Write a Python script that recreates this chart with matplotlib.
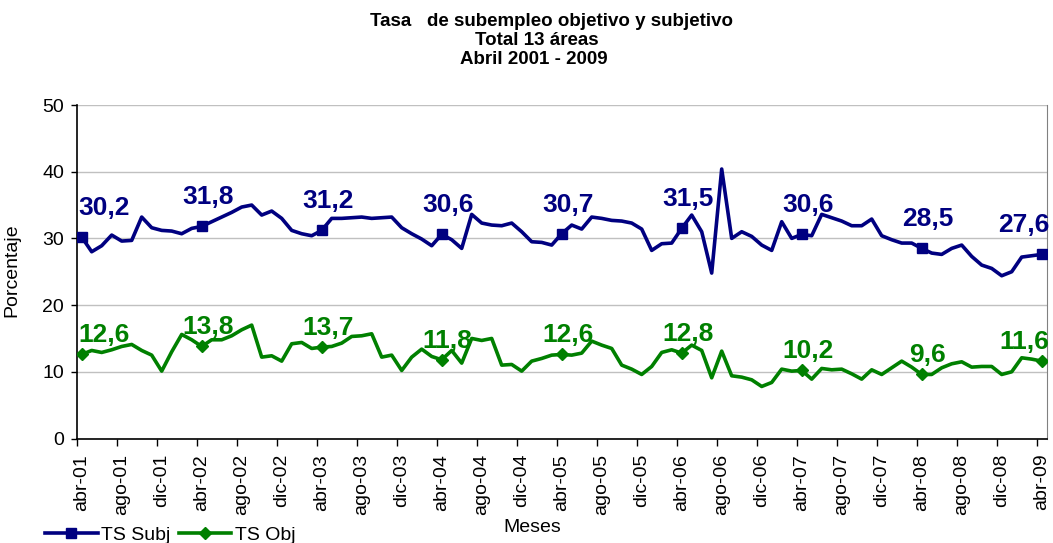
import matplotlib
matplotlib.use('Agg')
import matplotlib.pyplot as plt
from matplotlib.lines import Line2D

plt.rcParams['font.family'] = ['Liberation Sans', 'DejaVu Sans']

# ---------------- data ----------------
tick_labels = ['abr-01', 'ago-01', 'dic-01', 'abr-02', 'ago-02', 'dic-02', 'abr-03',
               'ago-03', 'dic-03', 'abr-04', 'ago-04', 'dic-04', 'abr-05', 'ago-05',
               'dic-05', 'abr-06', 'ago-06', 'dic-06', 'abr-07', 'ago-07', 'dic-07',
               'abr-08', 'ago-08', 'dic-08', 'abr-09']

ts_subj = [30.2, 28.0, 28.9, 30.5, 29.6, 29.7, 33.2, 31.6, 31.2, 31.1, 30.7, 31.5,
           31.8, 32.5, 33.2, 33.9, 34.7, 35.0, 33.5, 34.1, 33.0, 31.2, 30.7, 30.4,
           31.2, 33.0, 33.0, 33.1, 33.2, 33.0, 33.1, 33.2, 31.6, 30.7, 29.9, 28.9,
           30.6, 29.8, 28.5, 33.6, 32.3, 32.0, 31.9, 32.3, 31.0, 29.5, 29.4, 29.0,
           30.7, 32.0, 31.4, 33.2, 33.0, 32.7, 32.6, 32.3, 31.4, 28.2, 29.2, 29.3,
           31.5, 33.5, 31.0, 24.8, 40.4, 30.0, 31.0, 30.3, 29.0, 28.2, 32.5, 30.0,
           30.6, 30.4, 33.6, 33.1, 32.6, 31.9, 31.9, 32.9, 30.4, 29.8, 29.3, 29.3,
           28.5, 27.8, 27.6, 28.5, 29.0, 27.3, 26.0, 25.5, 24.4, 25.0, 27.2, 27.4,
           27.6]

ts_obj = [12.6, 13.2, 12.9, 13.3, 13.8, 14.1, 13.2, 12.5, 10.1, 13.0, 15.6, 14.8,
          13.8, 14.8, 14.8, 15.4, 16.3, 17.0, 12.2, 12.4, 11.6, 14.2, 14.4, 13.5,
          13.7, 13.8, 14.3, 15.3, 15.4, 15.7, 12.2, 12.5, 10.2, 12.2, 13.4, 12.3,
          11.8, 13.2, 11.3, 15.0, 14.7, 15.0, 11.0, 11.1, 10.1, 11.6, 12.0, 12.5,
          12.6, 12.5, 12.8, 14.6, 14.0, 13.5, 11.0, 10.4, 9.6, 10.8, 12.9, 13.3,
          12.8, 14.0, 13.2, 9.1, 13.1, 9.4, 9.2, 8.8, 7.8, 8.4, 10.4, 10.1,
          10.2, 8.9, 10.5, 10.3, 10.4, 9.7, 8.9, 10.3, 9.6, 10.6, 11.6, 10.7,
          9.6, 9.6, 10.6, 11.2, 11.5, 10.7, 10.8, 10.8, 9.6, 10.0, 12.1, 11.9,
          11.6]

series_names = ['TS Subj', 'TS Obj']
# --------------------------------------

BLUE = '#000080'
GREEN = '#008000'
W, H = 1053, 543

fig = plt.figure(figsize=(W / 100, H / 100), dpi=100)
ax = fig.add_axes([76.7 / W, 1 - 438.5 / H, 970 / W, 333.5 / H])

x = list(range(len(ts_subj)))
ax.plot(x, ts_subj, color=BLUE, lw=2.6, marker='s', markersize=7.5,
        markevery=12, zorder=3, solid_joinstyle='round')
ax.plot(x, ts_obj, color=GREEN, lw=2.6, marker='D', markersize=6.5,
        markevery=12, zorder=3, solid_joinstyle='round')

ax.set_xlim(-0.5, len(x) - 0.5)
ax.set_ylim(0, 50)
ax.set_yticks(range(0, 51, 10))
ax.tick_params(axis='y', labelsize=14, length=4, width=1, direction='out', pad=5)
ax.grid(axis='y', color='#c0c0c0', lw=1)
ax.set_axisbelow(True)

# ticks at category boundaries, labels at category centres
tick_pos = list(range(0, len(x), 4))
ax.set_xticks([p - 0.5 for p in tick_pos])
ax.set_xticklabels([])
ax.set_xticks(tick_pos, minor=True)
ax.set_xticklabels(tick_labels, minor=True, rotation=90, fontsize=14)
ax.tick_params(axis='x', which='major', length=5, width=1, direction='out')
ax.tick_params(axis='x', which='minor', length=0, pad=11)

for s in ['left', 'bottom']:
    ax.spines[s].set_color('black')
    ax.spines[s].set_linewidth(1.2)
ax.spines['top'].set_visible(False)
ax.spines['right'].set_color('#808080')

ax.set_ylabel('Porcentaje', fontsize=14)
ax.yaxis.set_label_coords((20 - 76.7) / 970, 0.505)

# data labels at every April
def fmt(v):
    return f'{v:.1f}'.replace('.', ',')

n = len(x)
for series, color, dy in [(ts_subj, BLUE, 22), (ts_obj, GREEN, 12)]:
    for i in range(0, n, 12):
        if i == 0:
            ha, dx = 'left', -3
        elif i == n - 1:
            ha, dx = 'right', 8
        else:
            ha, dx = 'center', 6
        ax.annotate(fmt(series[i]), (x[i], series[i]), xytext=(dx, dy),
                    textcoords='offset pixels', ha=ha, va='baseline',
                    fontsize=19, fontweight='bold', color=color,
                    zorder=5, annotation_clip=False)

# title
fig.text(552 / W, 1 - 26 / H, 'Tasa   de subempleo objetivo y subjetivo',
         ha='center', va='baseline', fontsize=13.5, fontweight='bold')
fig.text(537 / W, 1 - 45 / H, 'Total 13 áreas',
         ha='center', va='baseline', fontsize=13.5, fontweight='bold')
fig.text(534 / W, 1 - 63.5 / H, 'Abril 2001 - 2009',
         ha='center', va='baseline', fontsize=13.5, fontweight='bold')

fig.text(532 / W, 1 - 528 / H, 'Meses', ha='center', va='center', fontsize=14)

handles = [Line2D([], [], color=BLUE, lw=2.6, marker='s', markersize=7.5),
           Line2D([], [], color=GREEN, lw=2.6, marker='D', markersize=6.5)]
fig.legend(handles, series_names, loc='center left',
           bbox_to_anchor=(45 / W, 1 - 535 / H), ncol=2, frameon=False,
           fontsize=14, borderpad=0, borderaxespad=0, handletextpad=0.2,
           columnspacing=0.4, handlelength=2.7)

fig.savefig('out.png', dpi=100)
